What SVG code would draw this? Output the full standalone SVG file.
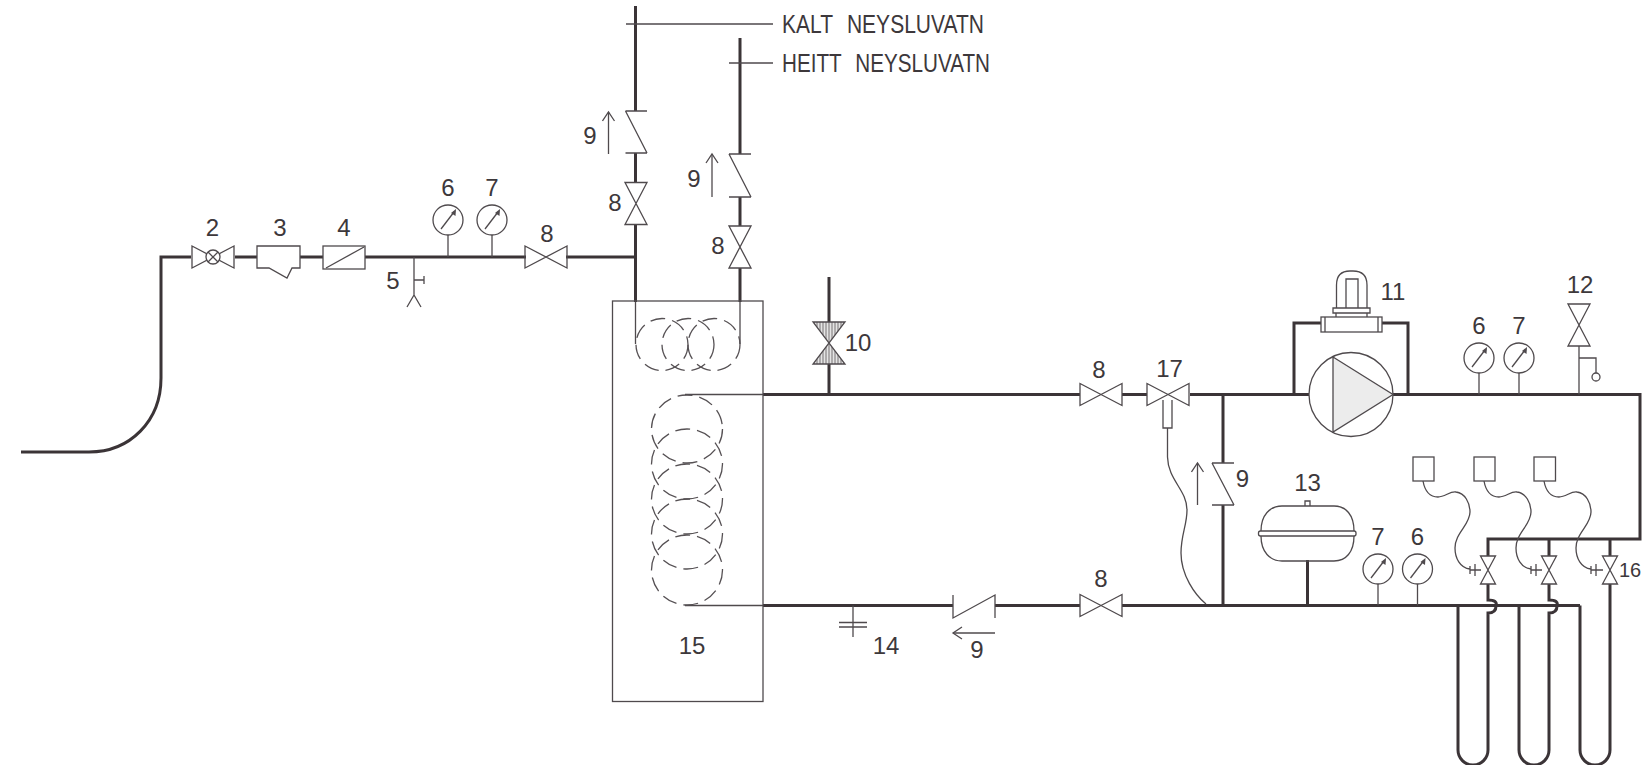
<svg xmlns="http://www.w3.org/2000/svg" xmlns:xlink="http://www.w3.org/1999/xlink" width="1642" height="765" viewBox="0 0 1642 765">
<style>
text{font-family:"Liberation Sans",Arial,sans-serif;font-size:24px;fill:#3d383b;text-anchor:middle}
.cap{font-size:25px;text-anchor:start;word-spacing:10px}
.t{fill:none;stroke:#4f4a4d;stroke-width:1.3}
.p{fill:none;stroke:#3b3437;stroke-width:3}
.w{fill:#fff;stroke:#4f4a4d;stroke-width:1.3}
.d{fill:none;stroke:#565154;stroke-width:1.3;stroke-dasharray:15 7}
</style>
<defs>
<marker id="ah" markerUnits="userSpaceOnUse" markerWidth="14" markerHeight="14" refX="12" refY="7" orient="auto"><path d="M3,1 L12,7 L3,13" fill="none" stroke="#4f4a4d" stroke-width="1.3"/></marker>
<pattern id="hatch" patternUnits="userSpaceOnUse" width="3" height="6"><rect width="3" height="6" fill="#e4e4e4"/><path d="M1,0V6" stroke="#777274" stroke-width="1"/></pattern>
<path id="vh" class="t" d="M-21,-11 L21,11 V-11 L-21,11 Z"/>
<path id="vv" class="t" d="M-11,-21 L11,21 H-11 L11,-21 Z"/>
<path id="vs" class="t" d="M-7.5,-14 L7.5,14 H-7.5 L7.5,-14 Z"/>
<g id="gauge"><circle class="t" r="15"/><path class="t" d="M-7,9 L6,-8"/><path d="M8,-11 L7.500,-4 L3,-7 Z" fill="#4f4a4d"/></g>
<path id="wave" class="t" d="M1423,481 C1425,492 1431,497 1438,497 C1445,497 1450,491 1456,492 C1465,493 1470,503 1470,512 C1470,525 1455,533 1455,548 C1455,558 1460,568 1470,569"/>
</defs>
<rect width="1642" height="765" fill="#fff"/>
<g id="connectors">
<path class="p" d="M21,452 H89 C130,452 161,421 161,378 V257 H191 M235,257 H257 M300,257 H323 M365,257 H526 M566,257 H635.500"/>
<path class="p" d="M635.500,6 V111 M635.500,153 V182 M635.500,225 V302"/>
<path class="p" d="M740,38 V154 M740,197 V226 M740,268 V302"/>
<path class="t" d="M635.500,302 V344 M740,302 V344 M626,24 H773 M729,63 H773"/>
<path class="t" d="M685,394.500 H763 M685,605.500 H763"/>
<path class="p" d="M829,277 V322 M829,364 V394.500"/>
<path class="p" d="M763,394.500 H1080 M1122,394.500 H1147 M1190,394.500 H1309 M1393,394.500 H1640 V539 H1488 V556 M1549,539 V556 M1610,539 V556"/>
<path class="p" d="M1294,394.500 V323 H1321 M1382,323 H1408 V394.500"/>
<path class="p" d="M1223,394.500 V463 M1223,505 V605.500"/>
<path class="p" d="M763,605.500 H953 M995,605.500 H1080 M1122,605.500 H1580"/>
<path class="p" d="M1307.500,560 V605.500"/>
<path class="p" d="M1488,584 V600 Q1498,600 1496,606 Q1496,613 1488,613 V750 A15,15 0 0 1 1458,750 V605.500"/>
<path class="p" d="M1549,584 V600 Q1559,600 1557,606 Q1557,613 1549,613 V750 A15,15 0 0 1 1519,750 V605.500"/>
<path class="p" d="M1610,584 V750 A15,15 0 0 1 1580,750 V605.500"/>
<path class="t" d="M1167.500,428 V457 C1168,480 1187,490 1187,510 C1187,525 1181,535 1181,553 C1181,575 1195,595 1206,604"/>
<use xlink:href="#wave" href="#wave"/>
<use xlink:href="#wave" href="#wave" transform="translate(61,0)"/>
<use xlink:href="#wave" href="#wave" transform="translate(121,0)"/>
</g>
<g id="n2"><use href="#vh" xlink:href="#vh" transform="translate(213,257)"/><circle class="w" cx="213" cy="257" r="7"/><path class="t" d="M208,252 L218,262 M218,252 L208,262"/><text x="212.500" y="236">2</text></g>
<g id="n3"><path class="t" d="M257,268 V246 H300 V268 H292 L287,278 L269,268 Z"/><text x="280" y="236">3</text></g>
<g id="n4"><rect class="t" x="323" y="246" width="42" height="23"/><path class="t" d="M326,268 L364,247"/><text x="344" y="236">4</text></g>
<g id="n5"><path class="t" d="M414,257 V295 M407,307 L414,295 L421,307 M414,280 H424 M424,276 V284"/><text x="393" y="289">5</text></g>
<g id="n6a"><use href="#gauge" xlink:href="#gauge" transform="translate(448,220)"/><path class="t" d="M448,235 V257"/><text x="448" y="196">6</text></g>
<g id="n7a"><use href="#gauge" xlink:href="#gauge" transform="translate(492,220)"/><path class="t" d="M492,235 V257"/><text x="492" y="196">7</text></g>
<g id="n8a"><use href="#vh" xlink:href="#vh" transform="translate(546,257)"/><text x="547" y="242">8</text></g>
<g id="n8b"><use href="#vv" xlink:href="#vv" transform="translate(636,203.500)"/><text x="615" y="211">8</text></g>
<g id="n8c"><use href="#vv" xlink:href="#vv" transform="translate(740,247)"/><text x="718" y="254">8</text></g>
<g id="n9a"><path class="t" d="M625.500,111 H647 M625.500,111 L647,153 M625.500,153 H647"/><path class="t" d="M608.500,154 V112" marker-end="url(#ah)"/><text x="590" y="144">9</text></g>
<g id="n9b"><path class="t" d="M729,154 H751 M729,154 L751,197 M729,197 H751"/><path class="t" d="M712,197 V154" marker-end="url(#ah)"/><text x="694" y="187">9</text></g>
<g id="labelCold"><text class="cap" x="782" y="33" textLength="202" lengthAdjust="spacingAndGlyphs">KALT NEYSLUVATN</text></g>
<g id="labelHot"><text class="cap" x="782" y="72" textLength="208" lengthAdjust="spacingAndGlyphs">HEITT NEYSLUVATN</text></g>
<g id="n15">
<rect class="t" x="612.500" y="301" width="150.500" height="400.500"/>
<ellipse class="d" cx="662" cy="344.500" rx="26" ry="26"/><ellipse class="d" cx="688" cy="344.500" rx="26" ry="26"/><ellipse class="d" cx="714" cy="344.500" rx="26" ry="26"/>
<ellipse class="d" cx="687" cy="429" rx="35.500" ry="34"/><ellipse class="d" cx="687" cy="464" rx="35.500" ry="35"/><ellipse class="d" cx="687" cy="499" rx="35.500" ry="35"/><ellipse class="d" cx="687" cy="534" rx="35.500" ry="35"/><ellipse class="d" cx="687" cy="570" rx="35.500" ry="35"/>
<text x="692" y="654">15</text></g>
<g id="n10"><path d="M813,322 H845 L813,364 H845 Z" fill="url(#hatch)" stroke="#4f4a4d" stroke-width="1.3"/><text x="858" y="351">10</text></g>
<g id="n14"><path class="t" d="M853,605.500 V637 M839,622.500 H867 M839,627 H867"/><text x="886" y="654">14</text></g>
<g id="n9c"><path class="t" d="M953,595 V618 L995,595 V618"/><path class="t" d="M995,633 H953" marker-end="url(#ah)"/><text x="977" y="658">9</text></g>
<g id="n8d"><use href="#vh" xlink:href="#vh" transform="translate(1101,605.500)"/><text x="1101" y="587">8</text></g>
<g id="n8e"><use href="#vh" xlink:href="#vh" transform="translate(1101,394.500)"/><text x="1099" y="378">8</text></g>
<g id="n17"><use href="#vh" xlink:href="#vh" transform="translate(1168,394.500)"/><path class="t" d="M1163,400 V428 H1172 V400"/><text x="1169.500" y="377">17</text></g>
<g id="n9d"><path class="t" d="M1212,463 H1234 M1212,463 L1234,505 M1212,505 H1234"/><path class="t" d="M1197.500,505 V463" marker-end="url(#ah)"/><text x="1242.500" y="487">9</text></g>
<g id="pump"><circle class="t" cx="1351" cy="394.500" r="42"/><path d="M1333,357 L1393,394.500 L1333,432 Z" fill="#ececec" stroke="#4f4a4d" stroke-width="1.3"/></g>
<g id="n11"><rect class="t" x="1321" y="317" width="61" height="15"/><path class="t" d="M1325,317 V332 M1378,317 V332 M1333,308 H1370 V313 H1333 Z M1336,313 V317 M1367,313 V317"/><path class="t" d="M1336.500,308 V285 Q1336.500,271 1350,271 H1353 Q1367,271 1367,285 V308 M1346,308 V279 H1358 V308"/><text x="1393" y="300">11</text></g>
<g id="n6b"><use href="#gauge" xlink:href="#gauge" transform="translate(1479,358)"/><path class="t" d="M1479,373 V394.500"/><text x="1479" y="334">6</text></g>
<g id="n7b"><use href="#gauge" xlink:href="#gauge" transform="translate(1519,358)"/><path class="t" d="M1519,373 V394.500"/><text x="1519" y="334">7</text></g>
<g id="n12"><use href="#vv" xlink:href="#vv" transform="translate(1579,325)"/><path class="t" d="M1579,346 V394.500 M1579,358 H1596 V373"/><circle class="t" cx="1596" cy="377" r="4"/><text x="1580" y="293">12</text></g>
<g id="n13"><path class="t" d="M1261,531 C1261,515 1270,506 1282,506 H1334 C1346,506 1354,515 1354,531 M1261,536 C1261,552 1270,561 1282,561 H1334 C1346,561 1354,552 1354,536 M1305,506 V501 H1310 V506"/><rect class="t" x="1258.500" y="531" width="97.500" height="5" rx="2"/><text x="1307.500" y="491">13</text></g>
<g id="n7c"><use href="#gauge" xlink:href="#gauge" transform="translate(1378,569)"/><path class="t" d="M1378,584 V605.500"/><text x="1378" y="545">7</text></g>
<g id="n6c"><use href="#gauge" xlink:href="#gauge" transform="translate(1417.500,569)"/><path class="t" d="M1417.500,584 V605.500"/><text x="1417.500" y="545">6</text></g>
<g id="n16">
<rect class="t" x="1413" y="457" width="21" height="24"/><rect class="t" x="1474" y="457" width="21" height="24"/><rect class="t" x="1534" y="457" width="21.500" height="24"/>
<use href="#vs" xlink:href="#vs" transform="translate(1488,570)"/><use href="#vs" xlink:href="#vs" transform="translate(1549,570)"/><use href="#vs" xlink:href="#vs" transform="translate(1610,570)"/>
<path class="t" d="M1470,570 H1481 M1475,564 V576 M1470,566 V574 M1531,570 H1542 M1536,564 V576 M1531,566 V574 M1591,570 H1603 M1596,564 V576 M1591,566 V574"/>
<text x="1619" y="577" style="text-anchor:start;font-size:20px">16</text></g>
</svg>
